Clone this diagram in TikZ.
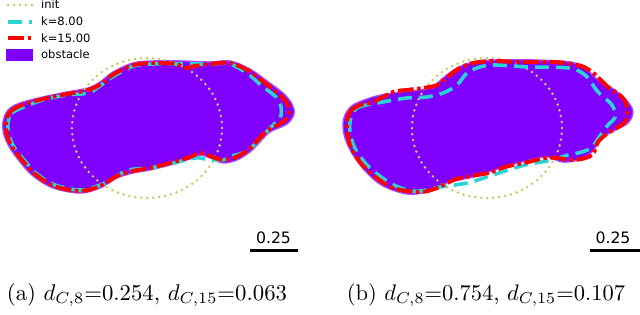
\documentclass[tikz,border=0pt]{standalone}
\usepackage{fontspec}
\usepackage{graphicx}
\newfontfamily\dejavu{DejaVu Sans}
\definecolor{obst}{RGB}{127,0,255}
\definecolor{initc}{RGB}{200,200,100}
\definecolor{kcyan}{RGB}{42,212,214}
\definecolor{kred}{RGB}{255,0,0}
\begin{document}
\begin{tikzpicture}[x=1pt,y=-1pt,
  obstacle/.style={fill=obst, draw=obst!70, line width=1.4pt},
  initline/.style={draw=initc, line width=2.8pt, dash pattern=on 0pt off 6pt, line cap=round},
  keight/.style={draw=kcyan, line width=3.6pt, dash pattern=on 14pt off 7pt},
  kfifteen/.style={draw=kred, line width=4pt, dash pattern=on 16pt off 3.5pt on 3.5pt off 3.5pt},
  legtext/.style={font=\dejavu\fontsize{11.5}{13}\selectfont, anchor=base west, inner sep=0pt},
  scaletext/.style={font=\dejavu\fontsize{15.7}{18}\selectfont, inner sep=0pt},
  scalebar/.style={draw=black, line width=3pt},
  caption/.style={inner sep=0pt}]
\useasboundingbox (0,0) rectangle (640,315);

% ---------- panel (a) ----------
\path[obstacle] plot[smooth cycle, tension=0.55] coordinates {
 (3,122) (8,110) (20,103) (43,97) (67,92) (88,88) (100,82) (113,72) (133,63) (153,61)
 (183,61) (210,62) (230,61) (250,69) (267,81) (283,93) (292,104) (294,114) (287,124)
 (270,132) (260,142) (250,152) (237,160) (223,163) (210,158) (200,155) (190,159)
 (170,165) (150,170) (133,173) (117,178) (100,188) (80,193) (53,188) (33,176)
 (20,162) (10,148) (4,135)};
\draw[initline] (147,128) ellipse [x radius=75pt, y radius=70pt];
\draw[keight] plot[smooth cycle, tension=0.55] coordinates {
 (8,122) (12,113) (24,107) (43,100) (67,95) (88,93) (100,86) (114,76) (134,66) (153,64)
 (183,64) (210,64) (230,64) (248,74) (262,86) (276,97) (281,107) (280,118) (270,128)
 (262,137) (247,151) (232,156) (222,160) (205,159) (195,158) (170,164) (150,168)
 (135,169) (125,171) (117,176) (100,185) (80,190) (55,185) (37,174) (24,160)
 (14,147) (9,135)};
\draw[kfifteen] plot[smooth cycle, tension=0.55] coordinates {
 (6,122) (10,112) (22,105) (43,99) (67,94) (88,90) (101,84) (114,74) (134,65) (153,63)
 (176,64) (185,68) (195,66) (210,64) (230,63) (249,71) (265,83) (280,95) (288,105)
 (289,114) (283,122) (268,130) (258,140) (248,150) (236,157) (223,160) (210,156)
 (200,153) (190,157) (170,163) (150,168) (133,171) (117,176) (100,186) (80,191)
 (54,186) (35,174) (22,160) (12,147) (7,135)};

% ---------- panel (b) ----------
\path[obstacle] plot[smooth cycle, tension=0.55] coordinates {
 (343,125) (345,115) (353,105) (373,97) (393,93) (420,90) (433,87) (443,78) (457,68)
 (473,62) (493,60) (535,60) (570,62) (585,68) (598,80) (615,90) (628,102) (633,112)
 (628,123) (612,132) (602,138) (592,152) (578,160) (562,162) (548,157) (538,158)
 (518,163) (495,170) (473,177) (450,182) (440,186) (427,192) (407,194) (383,186)
 (367,173) (353,155) (345,138)};
\draw[initline] (487,128) ellipse [x radius=75pt, y radius=70pt];
\draw[keight] plot[smooth cycle, tension=0.55] coordinates {
 (350,122) (357,108) (383,102) (407,98) (427,97) (443,93) (457,85) (467,73) (480,67)
 (495,65) (528,67) (568,68) (585,75) (598,92) (612,105) (615,117) (608,125) (602,133)
 (592,147) (582,152) (568,155) (552,160) (525,165) (502,172) (487,177) (467,183)
 (440,187) (420,191) (407,190) (390,183) (370,168) (357,152) (351,137)};
\draw[kfifteen] plot[smooth cycle, tension=0.55] coordinates {
 (347,125) (350,112) (360,105) (373,102) (393,92) (407,90) (423,88) (437,85) (450,75)
 (460,68) (473,63) (493,61) (518,62) (552,62) (578,65) (592,72) (608,87) (622,97)
 (627,108) (625,122) (608,133) (598,142) (592,155) (575,160) (557,158) (545,158)
 (528,162) (505,167) (488,173) (460,178) (447,183) (437,188) (420,192) (393,188)
 (373,175) (360,162) (350,145)};

% ---------- legend ----------
\draw[initline] (8,5) -- (32,5);
\draw[keight] (8,22) -- (32,22);
\draw[kfifteen] (8,38) -- (32,38);
\fill[obst] (6,49) rectangle (33,61);
\node[legtext] (lginit) at (41,9) {init};
\node[legtext] (lgk8) at (41,25.7) {k=8.00};
\node[legtext] (lgk15) at (41,42.3) {k=15.00};
\node[legtext] (lgobs) at (41,59) {obstacle};

% ---------- scale bars ----------
\node[scaletext] (sa) at (273.5,237.5) {0.25};
\draw[scalebar] (250,251) -- (298,251);
\node[scaletext] (sb) at (613,237.5) {0.25};
\draw[scalebar] (590,251) -- (640,251);

% ---------- captions ----------
\node[caption] (capa) at (147,295) {\resizebox{280pt}{!}{(a) $d_{C,8}$=0.254, $d_{C,15}$=0.063}};
\node[caption] (capb) at (486,295) {\resizebox{278pt}{!}{(b) $d_{C,8}$=0.754, $d_{C,15}$=0.107}};
\end{tikzpicture}
\end{document}
